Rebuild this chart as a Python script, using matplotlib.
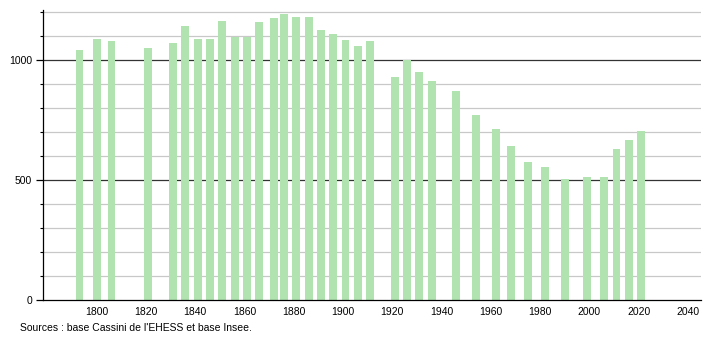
import matplotlib
matplotlib.use("Agg")
import matplotlib.pyplot as plt
from matplotlib.ticker import MultipleLocator

years = [1793, 1800, 1806, 1821, 1831, 1836, 1841, 1846, 1851, 1856, 1861, 1866,
         1872, 1876, 1881, 1886, 1891, 1896, 1901, 1906, 1911, 1921, 1926, 1931,
         1936, 1946, 1954, 1962, 1968, 1975, 1982, 1990, 1999, 2006, 2011, 2016, 2021]
population = [1042, 1086, 1079, 1049, 1069, 1142, 1086, 1086, 1162, 1096, 1096, 1158,
              1174, 1190, 1179, 1179, 1124, 1107, 1082, 1058, 1078, 928, 1000, 951,
              912, 869, 769, 712, 642, 575, 554, 503, 512, 512, 629, 667, 703]
xticks = [1800, 1820, 1840, 1860, 1880, 1900, 1920, 1940, 1960, 1980, 2000, 2020, 2040]
yticks = [0, 500, 1000]
source = "Sources : base Cassini de l'EHESS et base Insee."

plt.rcParams['font.family'] = ['Liberation Sans', 'DejaVu Sans']

W, H = 710, 340
fig = plt.figure(figsize=(W / 100, H / 100), dpi=100)
ax = fig.add_axes([43 / W, 1 - 300 / H, (701 - 43) / W, (300 - 10) / H])

ax.set_xlim(1778.2, 2045.3)
ax.set_ylim(0, 1208)

# grid lines
for v in range(100, 1300, 100):
    if v > 1208:
        break
    if v % 500 == 0:
        ax.axhline(v, color='#333333', lw=0.9, zorder=1)
    else:
        ax.axhline(v, color='#c8c8c8', lw=0.9, zorder=1)

ax.bar(years, population, width=3.2, color='#b0e3b0', zorder=2, linewidth=0)

ax.set_xticks(xticks)
ax.set_xticklabels([str(t) for t in xticks], fontsize=7.5)
ax.set_yticks(yticks)
ax.set_yticklabels([str(t) for t in yticks], fontsize=7.5)
ax.yaxis.set_minor_locator(MultipleLocator(100))
ax.tick_params(axis='x', length=0, pad=5)
ax.tick_params(axis='y', which='major', length=5, width=0.9, color='#000000', pad=3)
ax.tick_params(axis='y', which='minor', length=2.5, width=0.8, color='#000000')

for s in ['top', 'right']:
    ax.spines[s].set_visible(False)
ax.spines['left'].set_color('#000000')
ax.spines['bottom'].set_color('#000000')
ax.spines['left'].set_linewidth(0.9)
ax.spines['bottom'].set_linewidth(0.9)

fig.text(20 / W, 1 - 328 / H, source, fontsize=7.5, ha='left', va='center')

fig.savefig('out.png', dpi=100)
